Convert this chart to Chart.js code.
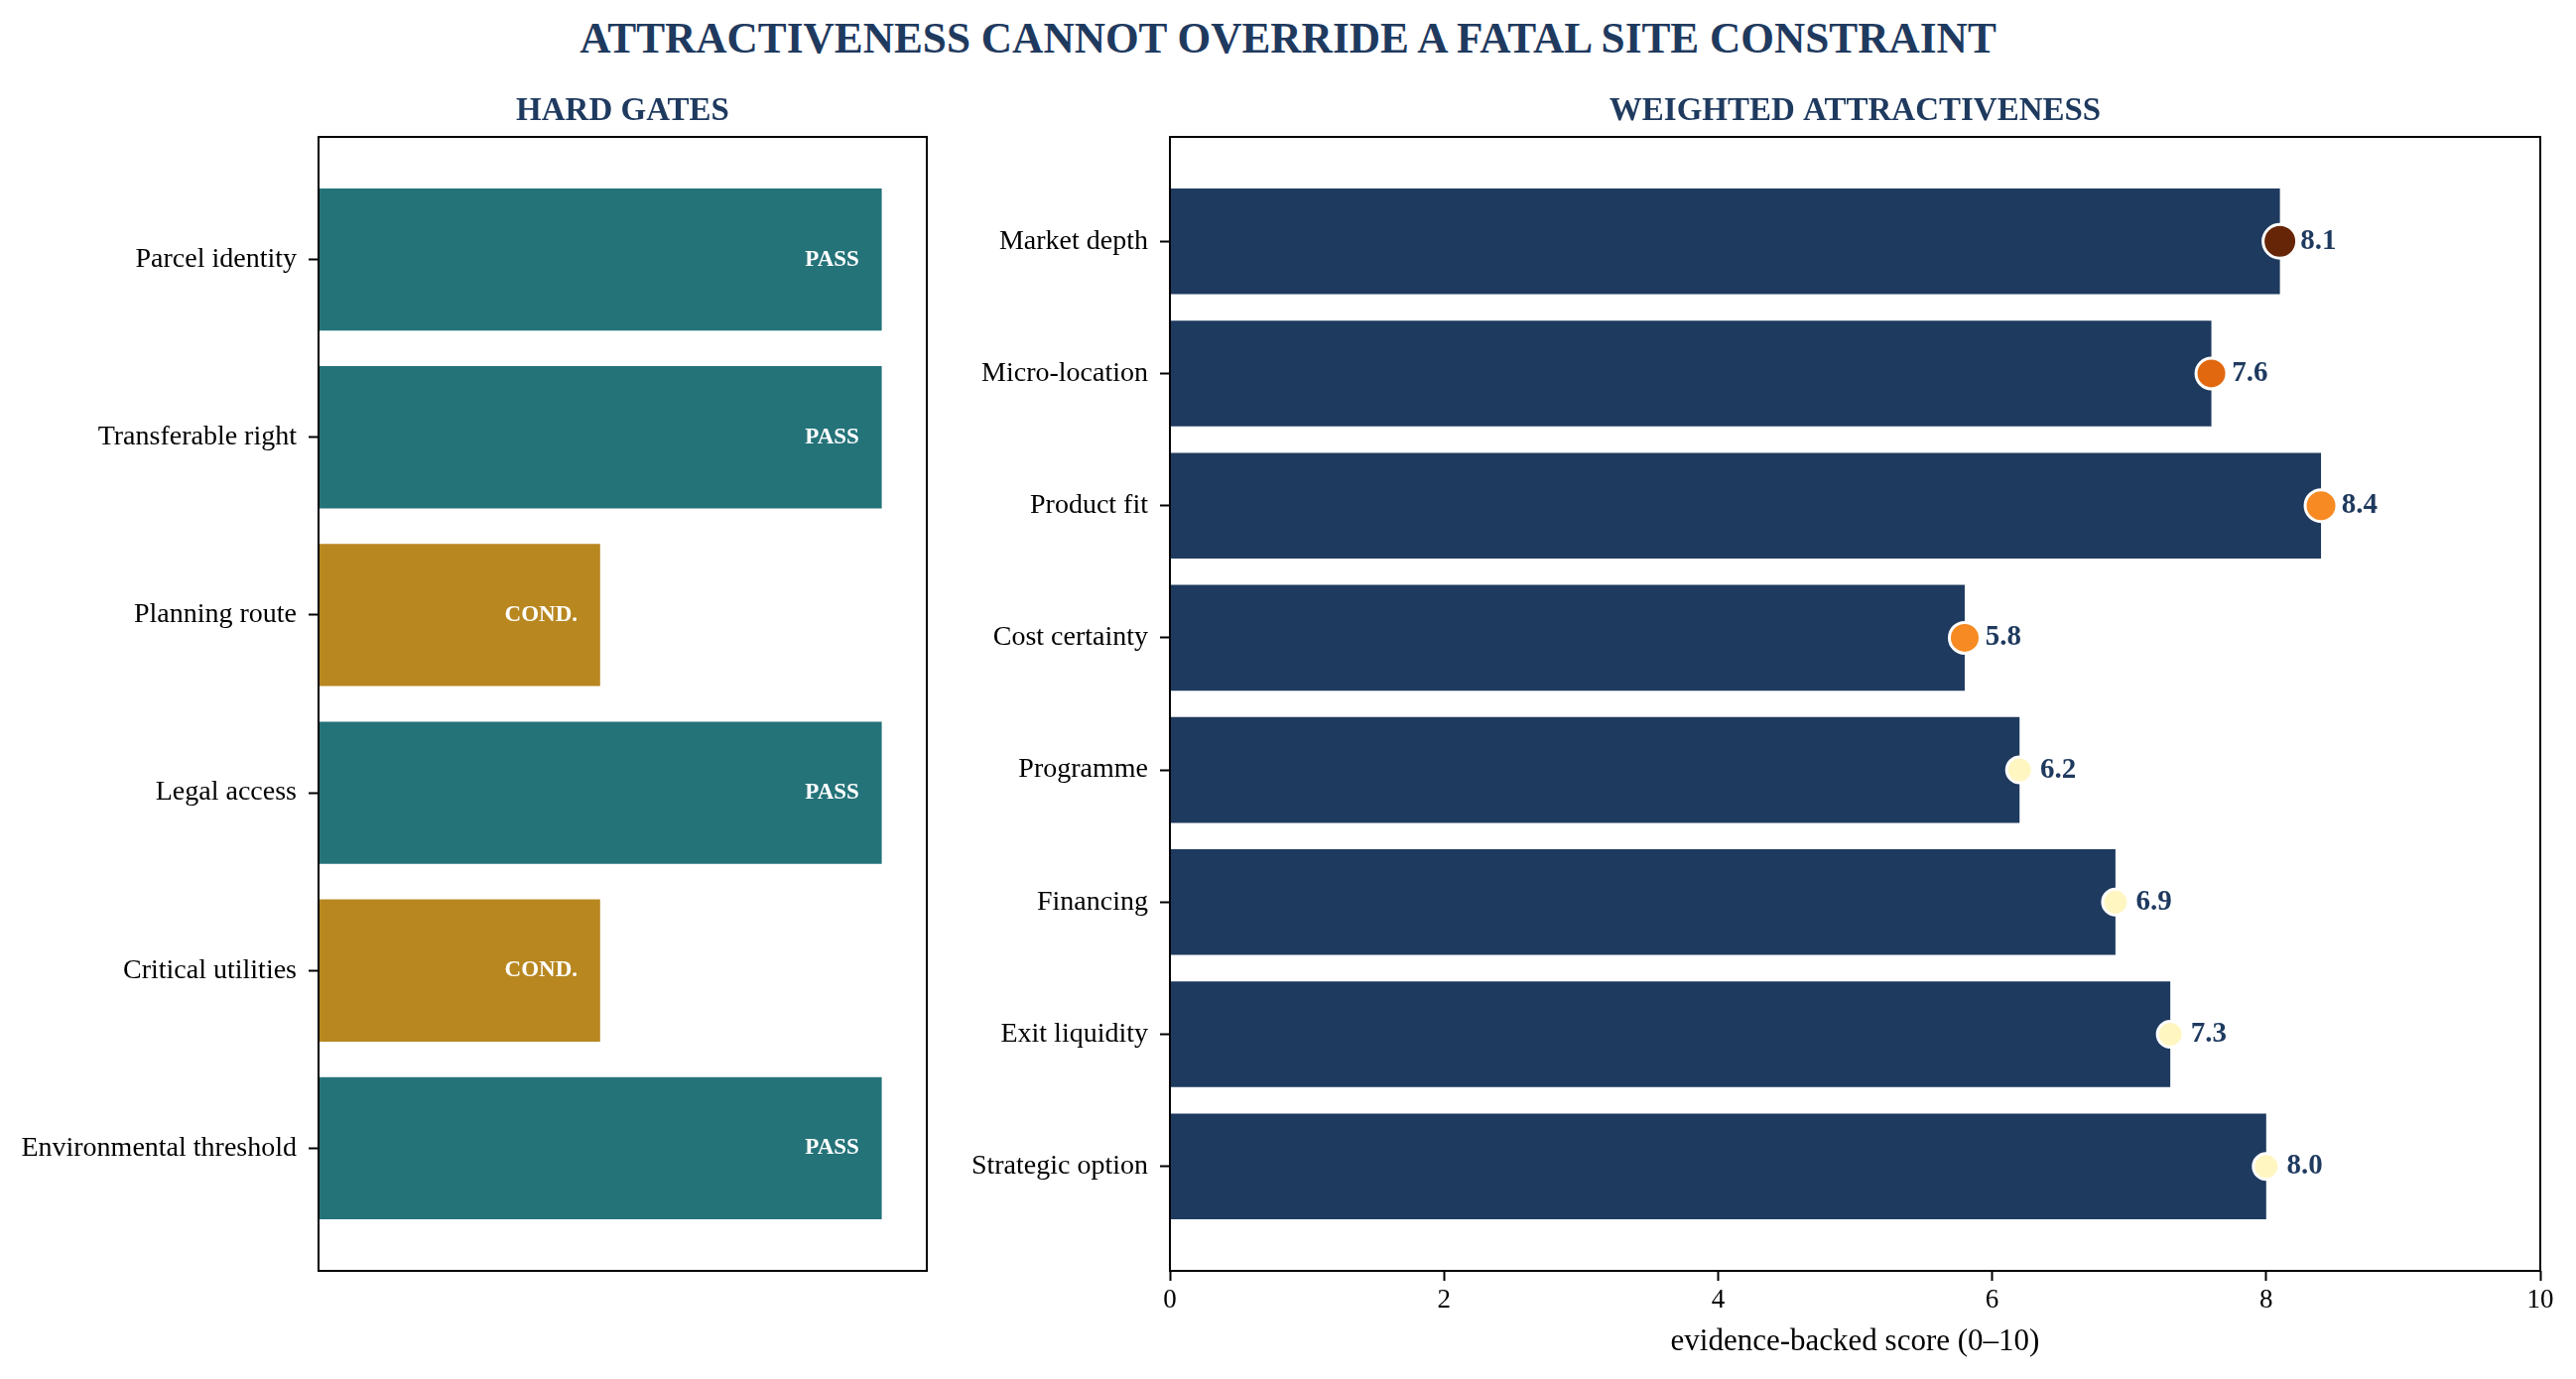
<!DOCTYPE html>
<html lang="en">
  <head>
    <meta charset="UTF-8" />
    <title>Attractiveness cannot override a fatal site constraint</title>
    <script src="https://cdn.jsdelivr.net/npm/chart.js"></script>
    <style>
      body {
        margin: 0;
        width: 2596px;
        height: 1390px;
        background: #fff;
        overflow: hidden;
        position: relative;
        font-family: "Liberation Serif", "Times New Roman", serif;
      }
      #main-title {
        position: absolute;
        left: 0;
        top: 16px;
        width: 2596px;
        text-align: center;
        font-weight: bold;
        font-size: 43.3px;
        line-height: 44px;
        color: #1f3a5f;
      }
      #gates {
        position: absolute;
        left: 0;
        top: 0;
      }
      #attract {
        position: absolute;
        left: 940px;
        top: 0;
      }
    </style>
  </head>
  <body>
    <div id="main-title">ATTRACTIVENESS CANNOT OVERRIDE A FATAL SITE CONSTRAINT</div>
    <canvas id="gates" width="960" height="1390"></canvas>
    <canvas id="attract" width="1656" height="1390"></canvas>
    <script>
      // data
      const gateNames = [
        "Parcel identity",
        "Transferable right",
        "Planning route",
        "Legal access",
        "Critical utilities",
        "Environmental threshold",
      ];
      const gateStatus = ["PASS", "PASS", "COND.", "PASS", "COND.", "PASS"];
      const gateValues = [1, 1, 0.5, 1, 0.5, 1];

      const factorNames = [
        "Market depth",
        "Micro-location",
        "Product fit",
        "Cost certainty",
        "Programme",
        "Financing",
        "Exit liquidity",
        "Strategic option",
      ];
      const factorScores = [8.1, 7.6, 8.4, 5.8, 6.2, 6.9, 7.3, 8.0];

      // styling
      const NAVY = "#1f3a5f";
      const TEAL = "#247379";
      const GOLD = "#b88720";
      const markerColors = ["#662506", "#e2680f", "#f78a22", "#f78a22", "#fff6c2", "#fff6c2", "#fff6c2", "#fff6c2"];
      const markerRadius = [17, 15.5, 16, 15.5, 13, 13, 13, 13];
      const FONT = "'Liberation Serif', 'Times New Roman', serif";

      Chart.defaults.font.family = FONT;
      Chart.defaults.color = "#000";

      // frame, panel title and text annotations
      function decor(title, drawLabels) {
        return {
          id: "decor",
          afterDraw(chart) {
            const { ctx, chartArea: a } = chart;
            ctx.save();
            ctx.strokeStyle = "#000";
            ctx.lineWidth = 2;
            ctx.strokeRect(a.left, a.top, a.right - a.left, a.bottom - a.top);
            ctx.fillStyle = NAVY;
            ctx.font = "bold 33px " + FONT;
            ctx.textAlign = "center";
            ctx.textBaseline = "alphabetic";
            ctx.fillText(title, (a.left + a.right) / 2, a.top - 17);
            drawLabels(chart, ctx);
            ctx.restore();
          },
        };
      }

      function categoryAxis(names, lo, hi) {
        return {
          type: "linear",
          min: lo,
          max: hi,
          reverse: true,
          offset: false,
          afterBuildTicks: (s) => {
            s.ticks = names.map((_, i) => ({ value: i }));
          },
          ticks: {
            callback: (v) => names[v],
            font: { size: 28 },
            color: "#000",
            padding: 12,
          },
          grid: {
            offset: false,
            drawOnChartArea: false,
            tickLength: 10,
            tickWidth: 2,
            tickColor: "#000",
          },
          border: { display: false },
        };
      }

      // left panel: hard gates
      new Chart(document.getElementById("gates"), {
        type: "bar",
        data: {
          datasets: [
            {
              data: gateValues.map((v, i) => ({ x: v, y: i })),
              backgroundColor: gateStatus.map((s) => (s === "PASS" ? TEAL : GOLD)),
              borderWidth: 0,
              categoryPercentage: 1,
              barPercentage: 0.8,
            },
          ],
        },
        options: {
          indexAxis: "y",
          responsive: false,
          animation: false,
          layout: { padding: { left: 0, right: 26, top: 138, bottom: 109 } },
          plugins: { legend: { display: false }, tooltip: { enabled: false } },
          scales: {
            x: { type: "linear", min: 0, max: 1.08, display: false },
            y: {
              ...categoryAxis(gateNames, -0.69, 5.69),
              afterFit: (s) => {
                s.width = 321;
              },
            },
          },
        },
        plugins: [
          decor("HARD GATES", (chart, ctx) => {
            const xs = chart.scales.x;
            const ys = chart.scales.y;
            ctx.fillStyle = "#fff";
            ctx.font = "bold 23px " + FONT;
            ctx.textAlign = "right";
            ctx.textBaseline = "middle";
            gateStatus.forEach((s, i) => {
              ctx.fillText(s, xs.getPixelForValue(gateValues[i] - 0.04), ys.getPixelForValue(i));
            });
          }),
        ],
      });

      // right panel: weighted attractiveness
      new Chart(document.getElementById("attract"), {
        type: "bar",
        data: {
          datasets: [
            {
              type: "scatter",
              order: 0,
              data: factorScores.map((v, i) => ({ x: v, y: i })),
              pointBackgroundColor: markerColors,
              pointBorderColor: "#fff",
              pointBorderWidth: 3,
              pointRadius: markerRadius,
              pointHoverRadius: markerRadius,
            },
            {
              type: "bar",
              order: 1,
              data: factorScores.map((v, i) => ({ x: v, y: i })),
              backgroundColor: NAVY,
              borderWidth: 0,
              categoryPercentage: 1,
              barPercentage: 0.8,
            },
          ],
        },
        options: {
          indexAxis: "y",
          responsive: false,
          animation: false,
          layout: { padding: { left: 0, right: 36, top: 138, bottom: 0 } },
          plugins: { legend: { display: false }, tooltip: { enabled: false } },
          scales: {
            x: {
              type: "linear",
              min: 0,
              max: 10,
              ticks: { stepSize: 2, font: { size: 27 }, color: "#000", padding: 4 },
              grid: {
                drawOnChartArea: false,
                tickLength: 10,
                tickWidth: 2,
                tickColor: "#000",
              },
              border: { display: false },
              title: {
                display: true,
                text: "evidence-backed score (0–10)",
                font: { size: 31 },
                color: "#000",
                padding: { top: 0, bottom: 19 },
              },
              afterFit: (s) => {
                s.height = 109;
              },
            },
            y: {
              ...categoryAxis(factorNames, -0.79, 7.79),
              afterFit: (s) => {
                s.width = 239;
              },
            },
          },
        },
        plugins: [
          decor("WEIGHTED ATTRACTIVENESS", (chart, ctx) => {
            const xs = chart.scales.x;
            const ys = chart.scales.y;
            ctx.fillStyle = NAVY;
            ctx.font = "bold 29px " + FONT;
            ctx.textAlign = "left";
            ctx.textBaseline = "middle";
            factorScores.forEach((v, i) => {
              ctx.fillText(v.toFixed(1), xs.getPixelForValue(v + 0.15), ys.getPixelForValue(i));
            });
          }),
        ],
      });
    </script>
  </body>
</html>
